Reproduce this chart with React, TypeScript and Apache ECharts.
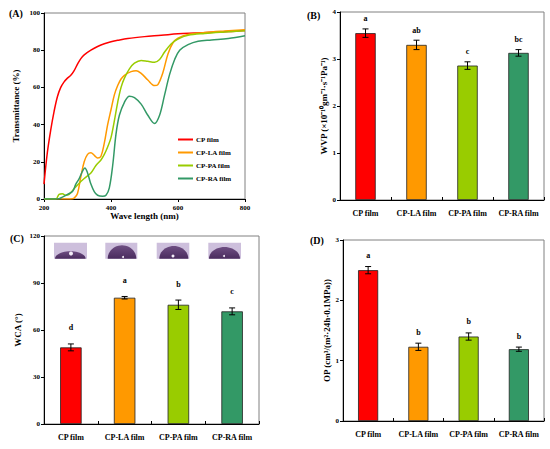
import React, { useEffect, useRef } from "react";
import * as echarts from "echarts";

// ---------- Data ----------
const SERIF = "'Liberation Serif', 'Times New Roman', serif";
const FILM_NAMES = ["CP film", "CP-LA film", "CP-PA film", "CP-RA film"];
const COLORS = ["#FF0000", "#FF9900", "#99CC00", "#339966"];

// Panel A: transmittance spectra [wavelength nm, T %]
const cpSpectrum: number[][] = [
  [200, 8], [210, 25], [220, 37], [230, 47], [240, 55], [250, 60], [260, 63], [270, 65],
  [280, 66.5], [290, 69], [300, 72.5], [310, 75.5], [320, 77.5], [340, 80], [360, 82],
  [380, 83.5], [400, 84.5], [420, 85.3], [450, 86.3], [500, 87.3], [550, 88], [600, 88.8],
  [650, 89.2], [700, 89.6], [750, 90], [800, 90.6],
];
const laSpectrum: number[][] = [
  [200, 0], [280, 0], [290, 0.5], [300, 3], [310, 12], [320, 20], [330, 24], [340, 24.8],
  [350, 23.5], [360, 22], [370, 23], [380, 30], [390, 40], [400, 48], [410, 56], [420, 61],
  [430, 64.5], [440, 66.5], [460, 68.5], [475, 69], [490, 67.5], [510, 64], [530, 61],
  [540, 61.5], [555, 68], [570, 78], [585, 84], [600, 86.5], [630, 88.5], [680, 89.5],
  [740, 90.3], [800, 91],
];
const paSpectrum: number[][] = [
  [200, 0], [235, 0], [245, 2.5], [255, 2.8], [265, 2], [275, 2.5], [290, 5.5], [305, 8.5],
  [320, 11], [340, 14], [355, 18], [370, 21], [380, 24], [390, 28], [400, 33], [410, 42],
  [420, 52], [430, 60], [440, 65], [455, 70], [470, 73], [490, 74.5], [510, 74], [530, 73.5],
  [545, 75], [560, 79], [580, 83.5], [600, 86], [630, 88], [680, 89], [740, 89.8], [800, 90.5],
];
const raSpectrum: number[][] = [
  [200, 0], [240, 0], [255, 1], [270, 2.5], [285, 4], [295, 8], [305, 11], [315, 15],
  [322, 16.7], [330, 14], [340, 8], [350, 4], [360, 2], [375, 1.5], [385, 2], [395, 6],
  [405, 18], [415, 35], [425, 45], [440, 52], [455, 55.3], [470, 54.5], [490, 51], [510, 45],
  [530, 40.6], [545, 45], [560, 56], [575, 67], [590, 75], [605, 80], [630, 83], [660, 84.8],
  [700, 85.5], [750, 86.3], [800, 87.8],
];
const SPECTRA = [cpSpectrum, laSpectrum, paSpectrum, raSpectrum];

// Panel B: WVP
const wvpValues = [3.55, 3.3, 2.86, 3.13];
const wvpErrors = [0.09, 0.1, 0.08, 0.07];
const wvpLetters = ["a", "ab", "c", "bc"];
// Panel C: WCA
const wcaValues = [48.9, 80.6, 76.1, 71.9];
const wcaErrors = [2.2, 0.8, 3, 2.2];
const wcaLetters = ["d", "a", "b", "c"];
// Panel D: OP
const opValues = [2.5, 1.23, 1.4, 1.19];
const opErrors = [0.06, 0.06, 0.06, 0.035];
const opLetters = ["a", "b", "b", "b"];

// ---------- Helpers ----------
const axisLine = { show: true, lineStyle: { color: "#000", width: 1 } };
const tickLabel = (size: number, margin: number) => ({
  fontSize: size, fontWeight: "bold" as const, fontFamily: SERIF, color: "#000", margin,
});

function errorSeries(idx: number, values: number[], errors: number[]) {
  return {
    type: "custom",
    xAxisIndex: idx,
    yAxisIndex: idx,
    z: 5,
    itemStyle: { color: "#000" },
    data: values.map((v, i) => [i, v, errors[i]]),
    renderItem: (params: any, api: any) => {
      const i = api.value(0);
      const v = api.value(1);
      const e = api.value(2);
      const top = api.coord([i, v + e]);
      const bot = api.coord([i, v - e]);
      const cap = 3;
      const ls = { stroke: "#000", lineWidth: 1 };
      return {
        type: "group",
        children: [
          { type: "line", shape: { x1: top[0], y1: top[1], x2: bot[0], y2: bot[1] }, style: ls },
          { type: "line", shape: { x1: top[0] - cap, y1: top[1], x2: top[0] + cap, y2: top[1] }, style: ls },
          { type: "line", shape: { x1: bot[0] - cap, y1: bot[1], x2: bot[0] + cap, y2: bot[1] }, style: ls },
        ],
      };
    },
  };
}

function barSeries(idx: number, values: number[]) {
  return {
    type: "bar",
    xAxisIndex: idx,
    yAxisIndex: idx,
    barWidth: "40%",
    data: values.map((v, i) => ({
      value: v,
      itemStyle: { color: COLORS[i], borderColor: "#222", borderWidth: 0.8 },
    })),
  };
}

function catAxis(idx: number) {
  return {
    type: "category",
    gridIndex: idx,
    data: FILM_NAMES,
    axisLine,
    axisTick: { show: true, inside: true, length: 3, lineStyle: { color: "#000" } },
    axisLabel: { ...tickLabel(8, 9), interval: 0 },
    splitLine: { show: false },
  };
}

function valAxis(idx: number, max: number, interval: number, name: string, nameGap: number) {
  return {
    type: "value",
    gridIndex: idx,
    min: 0,
    max,
    interval,
    axisLine,
    axisTick: { show: true, length: 3, lineStyle: { color: "#000" } },
    axisLabel: tickLabel(7, 4),
    splitLine: { show: false },
    name,
    nameLocation: "middle",
    nameGap,
    nameTextStyle: { fontSize: 9, fontWeight: "bold", fontFamily: SERIF, color: "#000" },
  };
}

function dome(cx: number, baseY: number, rx: number, ry: number) {
  const pts: number[][] = [];
  const n = 24;
  for (let k = 0; k <= n; k++) {
    const a = Math.PI + (Math.PI * k) / n;
    pts.push([cx + rx * Math.cos(a), baseY + ry * Math.sin(a)]);
  }
  return pts;
}

const DROPLETS = [
  { x: 54, w: 33, cx: 70.3, rx: 15.3, ry: 7.4, dot: [71, 253.5], dr: 2 },
  { x: 105.3, w: 32, cx: 122, rx: 14.3, ry: 13.4, dot: [123, 257], dr: 1 },
  { x: 156.7, w: 32.6, cx: 173.8, rx: 14.5, ry: 12.7, dot: [173, 256], dr: 1.5 },
  { x: 208.3, w: 32.7, cx: 224.5, rx: 15.5, ry: 11.7, dot: [224, 256], dr: 1 },
];

export default function App() {
  const ref = useRef<HTMLDivElement>(null);
  useEffect(() => {
    if (!ref.current) return;
    const chart = echarts.init(ref.current, undefined, { renderer: "svg" });

    const grids = [
      { left: 44, top: 13, width: 201, height: 186 },
      { left: 340, top: 12, width: 204, height: 188 },
      { left: 44, top: 236, width: 215, height: 188 },
      { left: 343, top: 240, width: 201, height: 181 },
    ].map((g) => ({ ...g, show: true, borderColor: "#808080", borderWidth: 1, backgroundColor: "transparent" }));

    const dropletGraphics: any[] = [];
    DROPLETS.forEach((d) => {
      const baseY = 258.7;
      dropletGraphics.push({
        type: "rect", shape: { x: d.x, y: 242.7, width: d.w, height: 16 },
        style: { fill: "#CDBFDC" }, z: 10,
      });
      dropletGraphics.push({
        type: "polygon", shape: { points: dome(d.cx, baseY, d.rx, d.ry) },
        style: {
          fill: new echarts.graphic.LinearGradient(0, 0, 0, 1, [
            { offset: 0, color: "#6E4E82" },
            { offset: 1, color: "#4A2C5E" },
          ]),
        },
        z: 11,
      });
      dropletGraphics.push({
        type: "circle", shape: { cx: d.dot[0], cy: d.dot[1], r: d.dr },
        style: { fill: "#F4EEF8" }, z: 12,
      });
    });

    const panelLabel = (text: string, left: number, top: number) => ({
      type: "text", left, top,
      style: { text, fontSize: 10, fontWeight: "bold", fontFamily: SERIF, fill: "#000" },
    });

    const baseGraphics = [
      panelLabel("(A)", 9, 8),
      panelLabel("(B)", 307, 10),
      panelLabel("(C)", 10, 233),
      panelLabel("(D)", 310, 235),
      ...dropletGraphics,
    ];

    const option: any = {
      animation: false,
      backgroundColor: "#fff",
      grid: grids,
      legend: {
        data: FILM_NAMES,
        orient: "vertical",
        left: 178,
        top: 136,
        itemWidth: 15,
        itemHeight: 2,
        itemGap: 6,
        icon: "rect",
        padding: 0,
        textStyle: { fontSize: 7, fontWeight: "bold", fontFamily: SERIF, color: "#000", padding: [0, 0, 0, -2] },
      },
      xAxis: [
        {
          type: "value",
          gridIndex: 0,
          min: 200,
          max: 800,
          interval: 200,
          axisLine,
          axisTick: { show: true, length: 3, lineStyle: { color: "#000" } },
          axisLabel: tickLabel(7, 5),
          splitLine: { show: false },
          name: "Wave length (nm)",
          nameLocation: "middle",
          nameGap: 11,
          nameTextStyle: { fontSize: 9, fontWeight: "bold", fontFamily: SERIF, color: "#000" },
        },
        catAxis(1),
        catAxis(2),
        catAxis(3),
      ],
      yAxis: [
        valAxis(0, 100, 20, "Transmittance (%)", 24),
        valAxis(1, 4, 1, "WVP (×10⁻¹⁰gm⁻¹·s⁻¹Pa⁻¹)", 11),
        valAxis(2, 120, 30, "WCA (°)", 22),
        valAxis(3, 3, 1, "OP (cm³/(m²·24h·0.1MPa))", 9),
      ],
      series: [
        ...SPECTRA.map((s, i) => ({
          name: FILM_NAMES[i],
          type: "line",
          xAxisIndex: 0,
          yAxisIndex: 0,
          smooth: 0.35,
          showSymbol: false,
          symbol: "none",
          data: s,
          lineStyle: { color: COLORS[i], width: 1.5 },
          itemStyle: { color: COLORS[i] },
        })),
        barSeries(1, wvpValues),
        errorSeries(1, wvpValues, wvpErrors),
        barSeries(2, wcaValues),
        errorSeries(2, wcaValues, wcaErrors),
        barSeries(3, opValues),
        errorSeries(3, opValues, opErrors),
      ],
      graphic: baseGraphics,
    };
    chart.setOption(option);

    // significance letters, positioned through the charts' own scales
    const letterSets = [
      { grid: 1, values: wvpValues, errors: wvpErrors, letters: wvpLetters, gap: 10 },
      { grid: 2, values: wcaValues, errors: wcaErrors, letters: wcaLetters, gap: 16 },
      { grid: 3, values: opValues, errors: opErrors, letters: opLetters, gap: 11 },
    ];
    const letterGraphics: any[] = [];
    letterSets.forEach((set) => {
      set.values.forEach((v, i) => {
        const p = chart.convertToPixel({ gridIndex: set.grid } as any, [i, v + set.errors[i]]) as number[];
        letterGraphics.push({
          type: "text",
          x: p[0],
          y: p[1] - set.gap,
          z: 20,
          style: {
            text: set.letters[i],
            align: "center",
            verticalAlign: "middle",
            fontSize: 8,
            fontWeight: "bold",
            fontFamily: SERIF,
            fill: "#000",
          },
        });
      });
    });
    chart.setOption({ graphic: [...baseGraphics, ...letterGraphics] });

    return () => chart.dispose();
  }, []);
  return (
    <div
      ref={ref}
      style={{ position: "fixed", left: 0, top: 0, width: 550, height: 449, background: "#fff" }}
    />
  );
}
